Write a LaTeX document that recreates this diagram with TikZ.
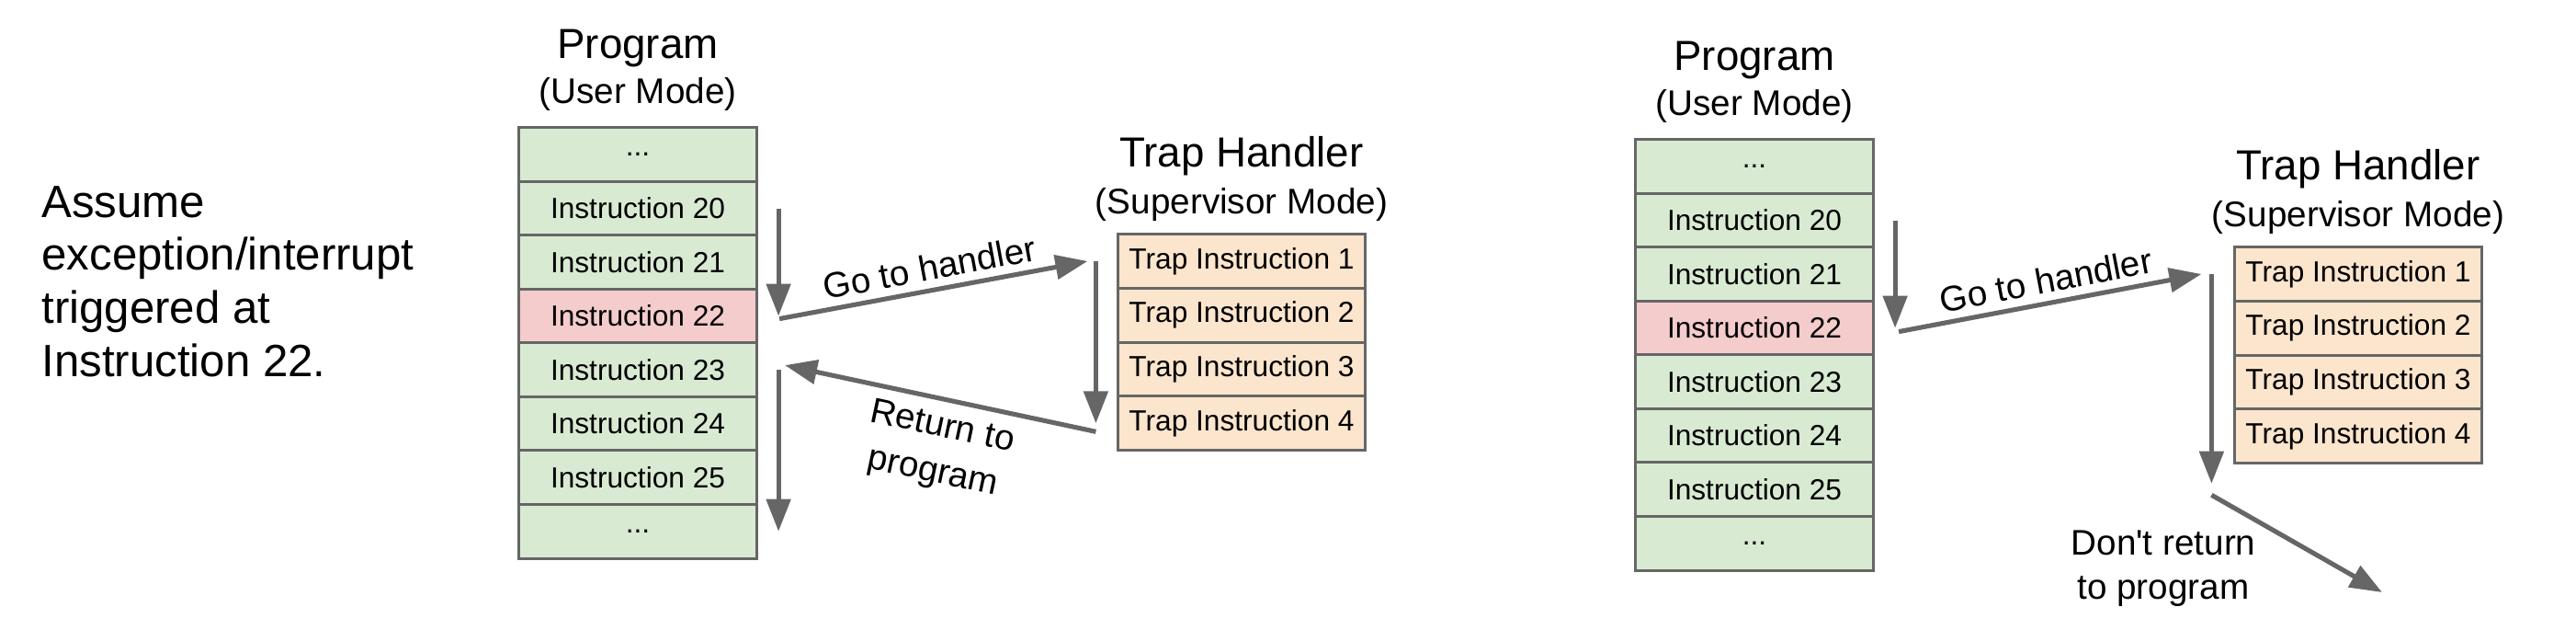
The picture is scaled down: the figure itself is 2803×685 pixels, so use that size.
\documentclass[tikz,border=0pt]{standalone}
\usepackage{fontspec}
\setmainfont{Liberation Sans}
\usetikzlibrary{positioning,arrows.meta}
\definecolor{progfill}{HTML}{D9EAD3}
\definecolor{hitfill}{HTML}{F4CCCC}
\definecolor{trapfill}{HTML}{FCE5CD}
\definecolor{edgegray}{HTML}{666666}
\newcommand\etcrow{...}
\tikzset{
  instr/.style={draw=edgegray, line width=0.85pt, fill=progfill, minimum width=2.58cm,
    minimum height=0.585cm, inner sep=0pt, outer sep=0pt, font=\fontsize{9}{10}\selectfont},
  trapinstr/.style={instr, fill=trapfill, minimum width=2.69cm, minimum height=0.5875cm},
  flow/.style={draw=edgegray, line width=1.45pt, -{Triangle[length=0.35cm,width=0.26cm]}},
  heading/.style={font=\fontsize{13}{15}\selectfont},
  subheading/.style={font=\fontsize{11}{13}\selectfont},
  arrowtext/.style={font=\fontsize{11}{13.5}\selectfont, align=center},
}
\begin{document}
\begin{tikzpicture}[x=0.01cm, y=-0.01cm, every node/.style={text=black}]
    \useasboundingbox (0,0) rectangle (2803,685);
    \node[anchor=west, align=left, font=\fontsize{14}{16.4}\selectfont] (note) at (33,306)
      {Assume\\exception/interrupt\\triggered at\\Instruction 22.};

    % trap handler returns to the program
    \node[instr] (pa0) at (694,168) {\etcrow};
    \foreach \n/\c [count=\i from 1, remember=\i as \j (initially 0)] in
      {Instruction 20/progfill, Instruction 21/progfill, Instruction 22/hitfill,
       Instruction 23/progfill, Instruction 24/progfill, Instruction 25/progfill, \etcrow/progfill}
      \node[instr, fill=\c, below=0pt of pa\j] (pa\i) {\n};
    \node[subheading] (pamode) at ([yshift=0.36cm]pa0.north) {(User Mode)};
    \node[heading] (patitle) at ([yshift=0.5cm]pamode.center) {Program};

    \node[trapinstr] (ta1) at (1351,284) {Trap Instruction 1};
    \foreach \i [remember=\i as \j (initially 1)] in {2,3,4}
      \node[trapinstr, below=0pt of ta\j] (ta\i) {Trap Instruction \i};
    \node[subheading] (tamode) at ([yshift=0.32cm]ta1.north) {(Supervisor Mode)};
    \node[heading] (tatitle) at ([yshift=0.53cm]tamode.center) {Trap Handler};

    \draw[flow] ([xshift=0.24cm]pa1.east) -- ([xshift=0.24cm]pa3.east);
    \draw[flow] ([xshift=0.25cm,yshift=-0.03cm]pa3.east) --
      node[arrowtext, sloped, above=-1pt] (gotoa) {Go to handler} ([xshift=-0.33cm]ta1.west);
    \draw[flow] ([xshift=-0.24cm]ta1.west) -- ([xshift=-0.24cm]ta4.west);
    \draw[flow] ([xshift=-0.24cm,yshift=-0.09cm]ta4.west) -- ([xshift=0.31cm,yshift=0.05cm]pa4.east);
    \node[arrowtext, rotate=-12, font=\fontsize{11}{14.2}\selectfont] (backa) at (1020,490) {Return to\\program};
    \draw[flow] ([xshift=0.24cm]pa4.east) -- ([xshift=0.24cm]pa7.east);

    % trap handler does not return
    \node[instr] (pb0) at (1909,181) {\etcrow};
    \foreach \n/\c [count=\i from 1, remember=\i as \j (initially 0)] in
      {Instruction 20/progfill, Instruction 21/progfill, Instruction 22/hitfill,
       Instruction 23/progfill, Instruction 24/progfill, Instruction 25/progfill, \etcrow/progfill}
      \node[instr, fill=\c, below=0pt of pb\j] (pb\i) {\n};
    \node[subheading] (pbmode) at ([yshift=0.36cm]pb0.north) {(User Mode)};
    \node[heading] (pbtitle) at ([yshift=0.5cm]pbmode.center) {Program};

    \node[trapinstr] (tb1) at (2566,298) {Trap Instruction 1};
    \foreach \i [remember=\i as \j (initially 1)] in {2,3,4}
      \node[trapinstr, below=0pt of tb\j] (tb\i) {Trap Instruction \i};
    \node[subheading] (tbmode) at ([yshift=0.32cm]tb1.north) {(Supervisor Mode)};
    \node[heading] (tbtitle) at ([yshift=0.53cm]tbmode.center) {Trap Handler};

    \coordinate (away) at (2592,644);
    \draw[flow] ([xshift=0.24cm]pb1.east) -- ([xshift=0.24cm]pb3.east);
    \draw[flow] ([xshift=0.28cm,yshift=-0.04cm]pb3.east) --
      node[arrowtext, sloped, above=-1pt] (gotob) {Go to handler} ([xshift=-0.36cm]tb1.west);
    \draw[flow] ([xshift=-0.25cm]tb1.west) -- ([xshift=-0.25cm,yshift=-0.22cm]tb4.south west);
    \draw[flow] ([xshift=-0.25cm,yshift=-0.345cm]tb4.south west) -- (away);
    \node[arrowtext] (stayb) at (2354,618) {Don\textquotesingle t return\\to program};
  \end{tikzpicture}
\end{document}
